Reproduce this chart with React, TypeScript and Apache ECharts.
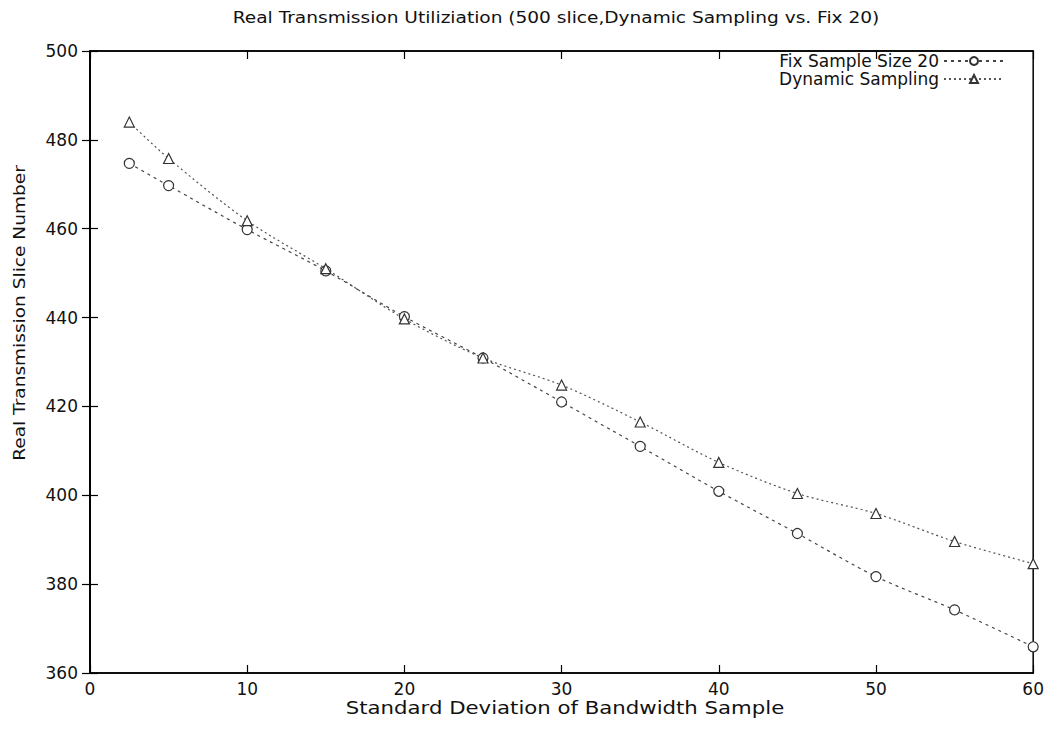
import React, { useEffect, useRef } from "react";
import * as echarts from "echarts";

const xValues = [2.5, 5, 10, 15, 20, 25, 30, 35, 40, 45, 50, 55, 60];
const fixSample = [474.7, 469.7, 459.8, 450.5, 440.2, 430.9, 421.0, 411.0, 400.9, 391.4, 381.7, 374.2, 365.9];
const dynamicSampling = [484.0, 475.8, 461.8, 451.0, 439.7, 430.9, 424.8, 416.5, 407.4, 400.4, 395.9, 389.6, 384.6];

const FONT = "DejaVu Sans";
const TITLE = "Real Transmission Utiliziation (500 slice,Dynamic Sampling vs. Fix 20)";
const X_NAME = "Standard Deviation of Bandwidth Sample";
const Y_NAME = "Real Transmission Slice Number";

export default function App() {
  const ref = useRef<HTMLDivElement>(null);
  useEffect(() => {
    if (!ref.current) return;
    const chart = echarts.init(ref.current, undefined, { renderer: "svg" });
    const pair = (ys: number[]) => xValues.map((x, i) => [x, ys[i]]);
    const axisLine = { show: true, lineStyle: { color: "#000", width: 1.5 } };
    const tick = { show: true, inside: true, length: 8, lineStyle: { color: "#000", width: 1.2 } };
    const labelStyle = { fontSize: 17, color: "#111", fontFamily: FONT };
    chart.setOption({
      animation: false,
      backgroundColor: "#fff",
      textStyle: { fontFamily: FONT },
      graphic: [
        {
          type: "text",
          x: 556,
          y: 17,
          scaleX: 1.16,
          style: { text: TITLE, fontSize: 16, fill: "#111", fontFamily: FONT, align: "center", verticalAlign: "middle" },
        },
        {
          type: "text",
          x: 565,
          y: 708,
          scaleX: 1.25,
          style: { text: X_NAME, fontSize: 17, fill: "#111", fontFamily: FONT, align: "center", verticalAlign: "middle" },
        },
        {
          type: "text",
          x: 19,
          y: 313,
          rotation: Math.PI / 2,
          scaleX: 1.16,
          style: { text: Y_NAME, fontSize: 16, fill: "#111", fontFamily: FONT, align: "center", verticalAlign: "middle" },
        },
      ],
      legend: {
        orient: "vertical",
        right: 42,
        top: 52,
        align: "right",
        itemWidth: 60,
        itemHeight: 10,
        itemGap: 0,
        padding: 0,
        textStyle: { fontSize: 17, lineHeight: 18, color: "#111", fontFamily: FONT },
        data: ["Fix Sample Size 20", "Dynamic Sampling"],
      },
      grid: { left: 90, right: 12, top: 51, bottom: 67, show: true, borderColor: "#000", borderWidth: 1.5 },
      xAxis: [
        {
          type: "value",
          min: 0,
          max: 60,
          interval: 10,
          axisLine,
          axisTick: tick,
          axisLabel: { ...labelStyle, margin: 7 },
          splitLine: { show: false },
        },
        {
          type: "value",
          position: "top",
          min: 0,
          max: 60,
          interval: 10,
          axisLine,
          axisTick: tick,
          axisLabel: { show: false },
          splitLine: { show: false },
        },
      ],
      yAxis: [
        {
          type: "value",
          min: 360,
          max: 500,
          interval: 20,
          axisLine,
          axisTick: tick,
          axisLabel: { ...labelStyle, margin: 12 },
          splitLine: { show: false },
        },
        {
          type: "value",
          position: "right",
          min: 360,
          max: 500,
          interval: 20,
          axisLine,
          axisTick: tick,
          axisLabel: { show: false },
          splitLine: { show: false },
        },
      ],
      series: [
        {
          name: "Fix Sample Size 20",
          type: "line",
          data: pair(fixSample),
          smooth: 0.3,
          symbol: "circle",
          symbolSize: 10,
          itemStyle: { color: "#fff", borderColor: "#333", borderWidth: 1.2 },
          lineStyle: { color: "#444", width: 1.2, type: [3, 4] },
          color: "#444",
        },
        {
          name: "Dynamic Sampling",
          type: "line",
          data: pair(dynamicSampling),
          smooth: 0.3,
          symbol: "triangle",
          symbolSize: 10,
          itemStyle: { color: "#fff", borderColor: "#333", borderWidth: 1.2 },
          lineStyle: { color: "#555", width: 1.2, type: [2, 3] },
          color: "#555",
        },
      ],
    });
    return () => chart.dispose();
  }, []);
  return <div ref={ref} style={{ width: 1047, height: 740, position: "absolute", left: 0, top: 0 }} />;
}
